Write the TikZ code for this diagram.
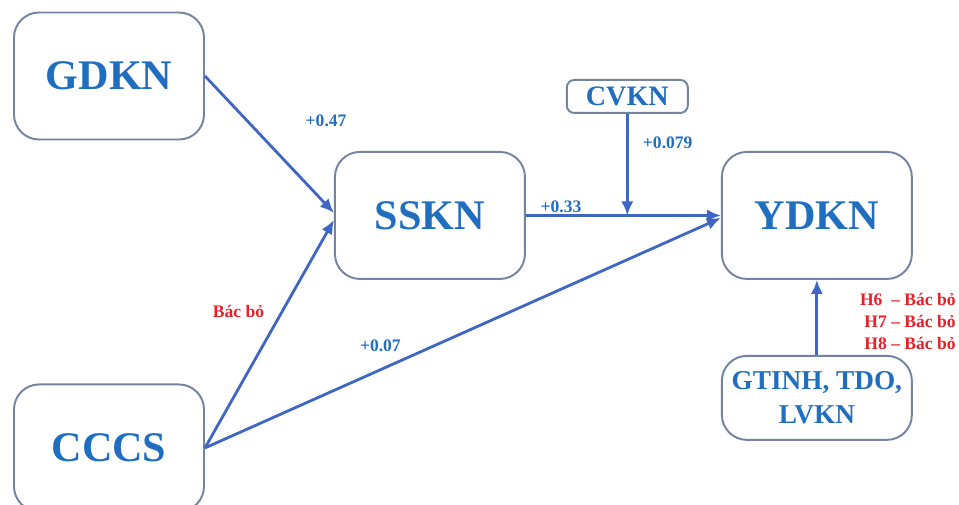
\documentclass[tikz,border=0pt]{standalone}
\usepackage{fontspec}
\setmainfont{Liberation Serif}
\usetikzlibrary{arrows.meta}
\usetikzlibrary{positioning}
\usetikzlibrary{calc}
\definecolor{boxline}{HTML}{7383A0}
\definecolor{txtblue}{HTML}{1F6EC0}
\definecolor{arrblue}{HTML}{3F66C2}
\definecolor{rejred}{HTML}{E8202A}
\tikzset{>={Latex[length=8pt,width=7pt]}, node distance=1cm}
\tikzstyle{block} = [draw=boxline, line width=1.1pt, fill=white, rectangle, rounded corners=0.5cm, minimum width=3.8cm, minimum height=2.54cm, text=txtblue, align=center, font=\fontsize{24}{26}\selectfont\bfseries]
\tikzstyle{modbox} = [block, rounded corners=0.15cm, minimum width=2.42cm, minimum height=0.66cm, inner sep=0pt, font=\fontsize{16}{17}\selectfont\bfseries]
\tikzstyle{ctrlbox} = [block, minimum height=1.68cm, font=\fontsize{15.5}{19}\selectfont\bfseries]
\tikzstyle{coef} = [text=txtblue, inner sep=1pt, font=\fontsize{10}{11}\selectfont\bfseries]
\tikzstyle{reject} = [text=rejred, inner sep=1pt, align=right, font=\fontsize{10}{12.5}\selectfont\bfseries]
\tikzstyle{link} = [->, draw=arrblue, line width=1.6pt]

\begin{document}
\begin{tikzpicture}
    \useasboundingbox (0,0) rectangle (19.18,-10.08);
    \node [block] (gdkn) at (2.18,-1.52) {GDKN};
    \node [block, below=4.86cm of gdkn] (cccs) {CCCS};
    \node [block, below right=0.21cm and 2.58cm of gdkn] (sskn) {SSKN};
    \node [block, right=3.90cm of sskn] (ydkn) {YDKN};
    \coordinate (mid) at ($(sskn.east)!0.52!(ydkn.west)$);
    \node [modbox, above=2.03cm of mid] (cvkn) {CVKN};
    \node [ctrlbox, below=1.5cm of ydkn] (gtinh) {GTINH, TDO,\\LVKN};

    \draw [link] (gdkn.east) -- node [coef, pos=0.33, right=1.1cm] {+0.47} ([yshift=0.05cm]sskn.west);
    \draw [link] (cccs.east) -- node [reject, pos=0.6, left=0.3cm] {Bác bỏ} ([yshift=-0.09cm]sskn.west);
    \draw [link] (cccs.east) -- node [coef, pos=0.34, above=0.3cm] {+0.07} ([yshift=-0.05cm]ydkn.west);
    \draw [link] (sskn.east) -- node [coef, pos=0.18, above] {+0.33} (ydkn.west);
    \draw [link] (cvkn.south) -- node [coef, pos=0.28, right=0.25cm] {+0.079} (mid);
    \draw [link] (gtinh.north) -- node [reject, pos=0.44, right=0.8cm] {H6 \ -- Bác bỏ\\H7 -- Bác bỏ\\H8 -- Bác bỏ} (ydkn.south);
\end{tikzpicture}
\end{document}
